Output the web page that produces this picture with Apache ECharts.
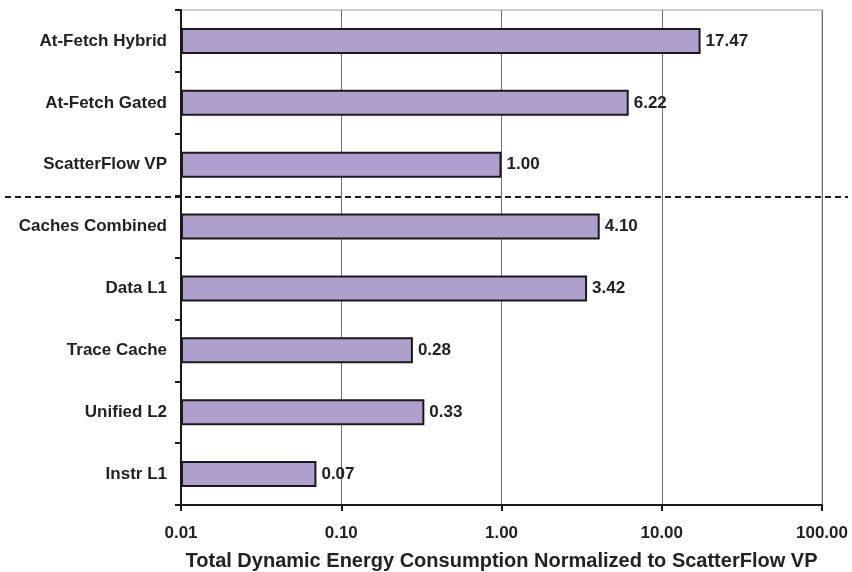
<!DOCTYPE html>
<html>
<head>
<meta charset="utf-8">
<script src="https://cdn.jsdelivr.net/npm/echarts@6/dist/echarts.min.js"></script>
<style>
  html, body { margin: 0; padding: 0; background: #fff; }
  #chart { width: 852px; height: 572px; }
</style>
</head>
<body>
<div id="chart"></div>
<script>
// Categories listed bottom to top (category axis runs upward)
var categories = [
  'Instr L1', 'Unified L2', 'Trace Cache', 'Data L1',
  'Caches Combined', 'ScatterFlow VP', 'At-Fetch Gated', 'At-Fetch Hybrid'
];
// Normalized total dynamic energy
var energy = [0.07, 0.33, 0.28, 3.42, 4.10, 1.00, 6.22, 17.47];
// Log-axis tick values
var xTicks = [0.01, 0.1, 1, 10, 100];
// Separator sits between these two categories
var separatorBetween = ['Caches Combined', 'ScatterFlow VP'];

var FONT = 'Arial, "Liberation Sans", Helvetica, sans-serif';
var chart = echarts.init(document.getElementById('chart'), null, { renderer: 'canvas' });

var option = {
  animation: false,
  backgroundColor: '#ffffff',
  grid: {
    left: 181, right: 30, top: 10, bottom: 67,
    show: true, borderColor: '#a89c9c', borderWidth: 1,
    containLabel: false,
    outerBoundsMode: 'none'
  },
  xAxis: {
    type: 'log',
    logBase: 10,
    min: xTicks[0],
    max: xTicks[xTicks.length - 1],
    startValue: xTicks[0],
    name: 'Total Dynamic Energy Consumption Normalized to ScatterFlow VP',
    nameLocation: 'middle',
    nameGap: 46,
    nameTextStyle: { fontFamily: FONT, fontWeight: 'bold', fontSize: 20, color: '#222' },
    axisLine: { show: true, lineStyle: { color: '#1a1a1a', width: 2 } },
    axisTick: { show: true, inside: false, length: 6, lineStyle: { color: '#1a1a1a', width: 2 } },
    minorTick: { show: false },
    axisLabel: {
      margin: 20,
      fontFamily: FONT, fontWeight: 'bold', fontSize: 17, color: '#222',
      formatter: function (v) { return Number(v).toFixed(2); }
    },
    splitLine: { show: true, lineStyle: { color: '#6f6f6f', width: 1 } }
  },
  yAxis: {
    type: 'category',
    data: categories,
    axisLine: { show: true, lineStyle: { color: '#1a1a1a', width: 2 } },
    axisTick: { show: true, inside: false, length: 6, alignWithLabel: false, lineStyle: { color: '#1a1a1a', width: 2 } },
    axisLabel: {
      margin: 14,
      fontFamily: FONT, fontWeight: 'bold', fontSize: 17, color: '#222'
    },
    splitLine: { show: false }
  },
  series: [{
    type: 'bar',
    data: energy,
    barWidth: '42%',
    itemStyle: { color: '#ae9fcc', borderColor: '#1a1a1a', borderWidth: 2 },
    label: {
      show: true,
      position: 'right',
      distance: 5,
      fontFamily: FONT, fontWeight: 'bold', fontSize: 17, color: '#222',
      formatter: function (p) { return p.value.toFixed(2); }
    }
  }]
};

chart.setOption(option);

// Dashed separator between the two groups, placed on the category boundary
var i0 = categories.indexOf(separatorBetween[0]);
var i1 = categories.indexOf(separatorBetween[1]);
var y0 = chart.convertToPixel({ yAxisIndex: 0 }, categories[i0]);
var y1 = chart.convertToPixel({ yAxisIndex: 0 }, categories[i1]);
var ySep = Math.round((y0 + y1) / 2) + 1;
chart.setOption({
  graphic: [{
    type: 'line',
    z: 100,
    shape: { x1: 5, y1: ySep, x2: 848, y2: ySep },
    style: { stroke: '#1a1a1a', lineWidth: 2, lineDash: [6, 4] }
  }]
});
</script>
</body>
</html>
